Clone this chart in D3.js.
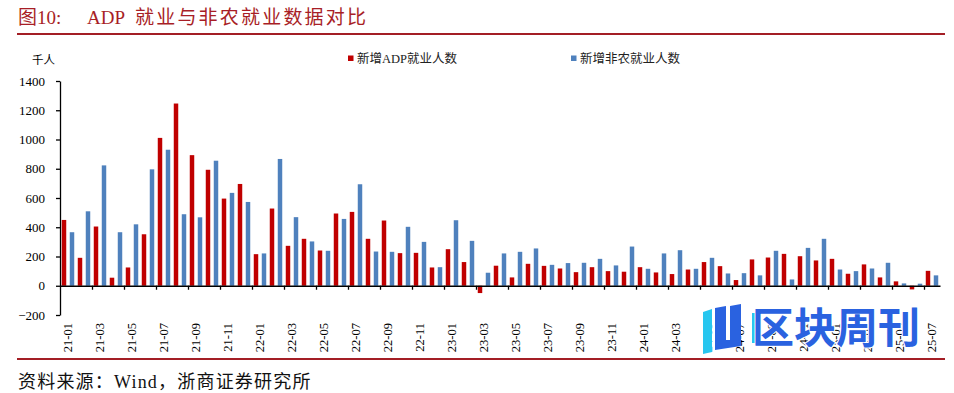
<!DOCTYPE html>
<html>
<head>
<meta charset="utf-8">
<script src="https://cdn.jsdelivr.net/npm/d3@7"></script>
<style>
body { margin: 0; background: #fff; }
svg text { font-family: "Liberation Serif", "Noto Sans CJK SC", serif; }
</style>
</head>
<body>
<svg id="chart"></svg>
<script>
/**
 * Chart data (thousand people).
 */
var months = ["21-01","21-02","21-03","21-04","21-05","21-06","21-07","21-08","21-09","21-10","21-11","21-12",
    "22-01","22-02","22-03","22-04","22-05","22-06","22-07","22-08","22-09","22-10","22-11","22-12",
    "23-01","23-02","23-03","23-04","23-05","23-06","23-07","23-08","23-09","23-10","23-11","23-12",
    "24-01","24-02","24-03","24-04","24-05","24-06","24-07","24-08","24-09","24-10","24-11","24-12",
    "25-01","25-02","25-03","25-04","25-05","25-06","25-07"];
var adp = [450, 191, 405, 55, 125, 352, 1011, 1246, 893, 793, 596, 696,
    216, 528, 273, 321, 241, 494, 505, 321, 446, 223, 225, 125,
    250, 162, -50, 137, 57, 150, 136, 118, 93, 127, 100, 96,
    127, 91, 80, 111, 162, 134, 39, 180, 193, 218, 202, 173,
    184, 82, 146, 57, 30, -25, 102];
var nonfarm = [366, 509, 823, 366, 420, 796, 930, 489, 468, 855, 635, 573,
    221, 867, 469, 303, 239, 457, 694, 234, 232, 403, 300, 127,
    448, 307, 89, 221, 232, 255, 143, 155, 157, 184, 139, 268,
    116, 221, 243, 116, 191, 84, 86, 71, 239, 43, 259, 321,
    111, 100, 118, 157, 16, 14, 71];
var seriesNames = ["新增ADP就业人数", "新增非农就业人数"];
var colors = ["#c00000", "#4f81bd"];
var yTicks = [-200, 0, 200, 400, 600, 800, 1000, 1200, 1400];

var w = 954;
var h = 393;
var svg = d3.select("#chart").attr("width", w).attr("height", h);

// Title and rules
var title = svg.append("text")
    .attr("y", 24)
    .style("fill", "#a81e26")
    .style("font-size", "19px");
title.append("tspan").attr("x", 18).text("图10:");
title.append("tspan").attr("x", 87).text("ADP");
title.append("tspan").attr("x", 135).style("letter-spacing", "2.2px").text("就业与非农就业数据对比");

svg.append("line").attr("x1", 17).attr("x2", 945).attr("y1", 34).attr("y2", 34)
    .style("stroke", "#a31e25").style("stroke-width", 2);
svg.append("line").attr("x1", 17).attr("x2", 945).attr("y1", 359).attr("y2", 359)
    .style("stroke", "#a31e25").style("stroke-width", 2);

svg.append("text")
    .attr("x", 18).attr("y", 388)
    .style("font-size", "18px")
    .style("letter-spacing", "1.2px")
    .style("fill", "#111")
    .text("资料来源：Wind，浙商证券研究所");

// Scales
var x0 = d3.scaleBand().domain(months).range([60, 940]).padding(0);
var x1 = d3.scaleBand().domain([0, 1]).range([0, x0.bandwidth()])
    .paddingInner(0.44).paddingOuter(0.22);
var y = d3.scaleLinear().domain([-200, 1400]).range([315, 81]);
var xi = d3.scaleLinear().domain([0, months.length]).range([60, 940]);

// Bars
[adp, nonfarm].forEach(function(series, si) {
    svg.append("g")
        .selectAll("rect")
        .data(series)
        .enter()
        .append("rect")
        .attr("x", function(d, i) { return x0(months[i]) + x1(si); })
        .attr("width", x1.bandwidth())
        .attr("y", function(d) { return y(Math.max(0, d)); })
        .attr("height", function(d) { return Math.abs(y(d) - y(0)); })
        .style("fill", colors[si]);
});

// Y axis
var yAxis = svg.append("g")
    .attr("transform", "translate(60,0)")
    .call(d3.axisLeft(y).tickValues(yTicks).tickFormat(d3.format("d"))
        .tickSize(4).tickSizeOuter(0).tickPadding(11));
yAxis.selectAll("text").style("font-size", "13px").style("fill", "#000")
    .style("font-family", "Liberation Serif, serif");
yAxis.selectAll("line, path").style("stroke", "#000").style("stroke-width", 1.3);

// X axis: baseline with tick marks every two months
var xAxis = svg.append("g")
    .attr("transform", "translate(0," + y(0) + ")")
    .call(d3.axisBottom(xi).tickValues(d3.range(2, months.length, 2))
        .tickFormat("").tickSize(4).tickSizeOuter(0));
xAxis.selectAll("line, path").style("stroke", "#000").style("stroke-width", 1.3);

// X labels, rotated, every two months
svg.append("g")
    .selectAll("text")
    .data(months.filter(function(d, i) { return i % 2 === 0; }))
    .enter()
    .append("text")
    .attr("transform", function(d) {
        return "translate(" + (x0(d) + x0.bandwidth() / 2) + ",323) rotate(-90)";
    })
    .attr("text-anchor", "end")
    .attr("dy", "0.35em")
    .style("font-size", "12.5px")
    .style("fill", "#000")
    .text(function(d) { return d; });

// Unit
svg.append("text")
    .attr("x", 32).attr("y", 64)
    .style("font-size", "11.5px")
    .style("fill", "#000")
    .text("千人");

// Legend
var legendX = [348, 571];
seriesNames.forEach(function(name, i) {
    svg.append("rect")
        .attr("x", legendX[i]).attr("y", 55.5)
        .attr("width", 5.5).attr("height", 5.5)
        .style("fill", colors[i]);
    svg.append("text")
        .attr("x", legendX[i] + 9).attr("y", 62.5)
        .style("font-size", "12.5px")
        .style("fill", "#222")
        .text(name);
});

// Watermark
var wm = svg.append("g");
wm.append("path")
    .attr("d", "M703,312 L712,309 L712,352 L703,354 Z")
    .style("fill", "#27c6ef");
wm.append("path")
    .attr("d", "M715,308 L726,306 L726,340 L730,340 L730,306 L741,304 L741,346 L715,350 Z")
    .style("fill", "#2a62e0");
wm.append("path")
    .attr("d", "M752,313 L757,313 L757,343 L752,343 Z")
    .style("fill", "#27c6ef");
wm.append("text")
    .attr("x", 752).attr("y", 343)
    .style("font-family", "Noto Sans CJK SC, sans-serif")
    .style("font-weight", "bold")
    .style("font-size", "42px")
    .style("fill", "#2a62e0")
    .style("stroke", "#fff")
    .style("stroke-width", 2)
    .style("paint-order", "stroke")
    .text("区块周刊");
</script>
</body>
</html>
